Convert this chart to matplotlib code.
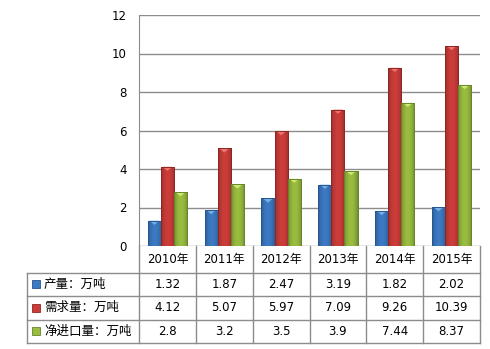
import numpy as np
import matplotlib.pyplot as plt
from matplotlib.patches import Rectangle, Polygon
from matplotlib.colors import to_rgb

plt.rcParams['font.family'] = ['DejaVu Sans', 'Noto Sans CJK SC']

# Data
years = ['2010年', '2011年', '2012年', '2013年', '2014年', '2015年']
series_names = ['产量：万吨', '需求量：万吨', '净进口量：万吨']
output = [1.32, 1.87, 2.47, 3.19, 1.82, 2.02]
demand = [4.12, 5.07, 5.97, 7.09, 9.26, 10.39]
net_import = [2.8, 3.2, 3.5, 3.9, 7.44, 8.37]
table_text = [['1.32', '1.87', '2.47', '3.19', '1.82', '2.02'],
              ['4.12', '5.07', '5.97', '7.09', '9.26', '10.39'],
              ['2.8', '3.2', '3.5', '3.9', '7.44', '8.37']]

colors = ['#3c7ac4', '#cc3d3a', '#9abd40']
edges = ['#265590', '#8e2624', '#66862a']
tops = ['#7fb3ea', '#f07a77', '#d4ee7a']
grid_c = '#8c8c8c'

W, H = 490, 349
fig = plt.figure(figsize=(W / 100, H / 100), dpi=100)

# plot area in pixels
left, right, top, bottom = 139, 480, 15, 246
ax = fig.add_axes([left / W, 1 - bottom / H, (right - left) / W, (bottom - top) / H])

x = np.arange(len(years))
bw = 0.23
for i, vals in enumerate([output, demand, net_import]):
    bars = ax.bar(x + (i - 1) * bw, vals, width=bw, color=colors[i],
                  edgecolor=edges[i], linewidth=0.7, zorder=3)
    # horizontal shading across each bar (darker sides)
    c = np.array(to_rgb(colors[i]))
    t = np.linspace(-1, 1, 32)
    shade = 1 - 0.25 * t ** 2
    grad = np.clip(c[None, :] * shade[:, None], 0, 1)[None, :, :]
    for b in bars:
        bx, bh = b.get_x(), b.get_height()
        im = ax.imshow(grad, extent=[bx, bx + bw, 0, bh], aspect='auto',
                       zorder=3.5, interpolation='bilinear')
        im.set_clip_path(b)
        tri = Polygon([[bx + 0.12 * bw, bh], [bx + 0.88 * bw, bh],
                       [bx + 0.5 * bw, bh - 0.22]], closed=True,
                      facecolor=tops[i], edgecolor='none', alpha=0.9, zorder=4)
        ax.add_patch(tri)
    ax.bar(x + (i - 1) * bw, vals, width=bw, facecolor='none',
           edgecolor=edges[i], linewidth=0.7, zorder=4.5)

ax.set_xlim(-0.5, len(years) - 0.5)
ax.set_ylim(0, 12)
ax.set_yticks(range(0, 13, 2))
ax.set_xticks([])
ax.tick_params(axis='y', length=0, pad=9, labelsize=8.5)
ax.grid(axis='y', color=grid_c, linewidth=1, zorder=0)
for s in ['top', 'right', 'bottom']:
    ax.spines[s].set_visible(False)
ax.spines['left'].set_color(grid_c)

# data table drawn in pixel coordinates
tab = fig.add_axes([0, 0, 1, 1], facecolor='none')
tab.set_xlim(0, W)
tab.set_ylim(H, 0)
tab.axis('off')

tleft = 27
rows_y = [246, 272.5, 296, 319.5, 343]
col_w = (right - left) / len(years)
cols_x = [left + k * col_w for k in range(len(years) + 1)]

lk = dict(color=grid_c, linewidth=1)
for yy in rows_y[1:]:
    tab.plot([tleft, right], [yy, yy], **lk)
tab.plot([tleft, tleft], [rows_y[1], rows_y[-1]], **lk)
tab.plot([left, left], [bottom, rows_y[-1]], **lk)
for cx in cols_x[1:]:
    tab.plot([cx, cx], [rows_y[0], rows_y[-1]], **lk)

fs = 8.5
for k, yr in enumerate(years):
    tab.text((cols_x[k] + cols_x[k + 1]) / 2, (rows_y[0] + rows_y[1]) / 2 + 0.5, yr,
             ha='center', va='center', fontsize=fs)

for r in range(3):
    yc = (rows_y[r + 1] + rows_y[r + 2]) / 2
    tab.add_patch(Rectangle((32, yc - 4), 8, 8, facecolor=colors[r],
                            edgecolor=edges[r], linewidth=0.6))
    tab.text(44, yc, series_names[r], ha='left', va='center', fontsize=fs + 0.5)
    for k in range(len(years)):
        tab.text((cols_x[k] + cols_x[k + 1]) / 2, yc, table_text[r][k],
                 ha='center', va='center', fontsize=fs)

fig.savefig('out.png', dpi=100)
